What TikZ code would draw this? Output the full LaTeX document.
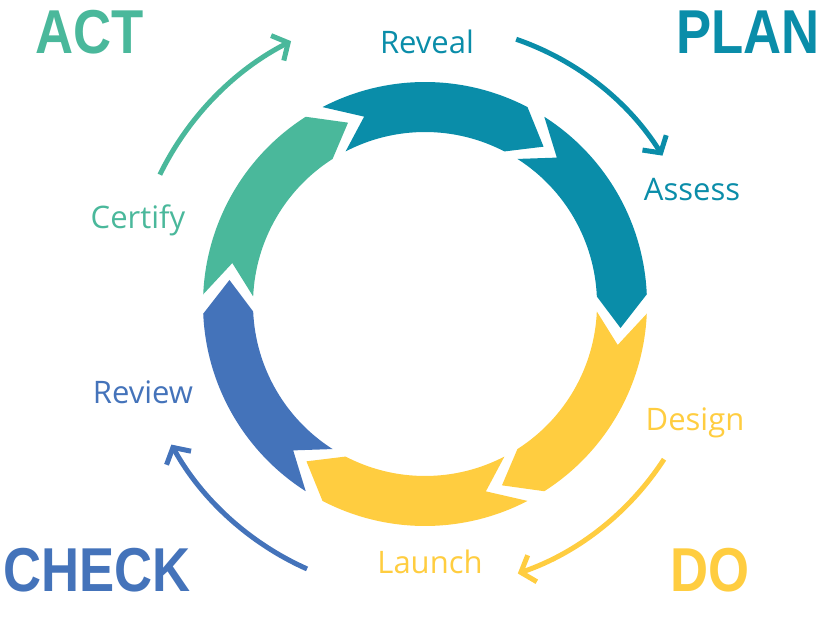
\documentclass[tikz,border=0pt]{standalone}
\usepackage{fontspec}
\setmainfont{Open Sans}
\newfontfamily\heavyfont{Liberation Sans}
\usetikzlibrary{arrows.meta}
\definecolor{tealc}{HTML}{0A8DA9}
\definecolor{greenc}{HTML}{4AB89B}
\definecolor{bluec}{HTML}{4473BA}
\definecolor{yellowc}{HTML}{FFCD40}
\tikzset{
  stage label/.style={font=\fontsize{31}{34}\selectfont},
  phase/.style={font=\heavyfont\bfseries\fontsize{62}{62}\selectfont, xscale=0.85},
  cycle arrow/.style={line width=5pt, -{Straight Barb[length=12pt,width=28pt,line width=5pt]}}
}
\begin{document}
\begin{tikzpicture}[x=1pt,y=1pt]
    \useasboundingbox (0,0) rectangle (824,616);
    \begin{scope}[shift={(425,312)}]
        % ring segments
        \foreach \a/\c in {120/tealc,60/tealc,0/yellowc,-60/yellowc,-120/bluec,180/greenc} {
            \fill[\c] (\a-2.5:222) arc[start angle=\a-2.5, end angle=\a-57.5, radius=222]
                -- (\a-67:197) -- (\a-57.5:172)
                arc[start angle=\a-57.5, end angle=\a-2.5, radius=172]
                -- (\a-12:197) -- cycle;
        }
        % outer arrows
        \draw[cycle arrow, tealc] (71:280) arc[start angle=71, end angle=32, radius=280];
        \draw[cycle arrow, yellowc] (-33:285) arc[start angle=-33, end angle=-71, radius=285];
        \draw[cycle arrow, bluec] (-114:290) arc[start angle=-114, end angle=-151, radius=290];
        \draw[cycle arrow, greenc] (154:295) arc[start angle=154, end angle=117, radius=295];
    \end{scope}
    % step labels
    \node[stage label, tealc] (reveal) at (427,574) {Reveal};
    \node[stage label, tealc] (assess) at (692,426) {Assess};
    \node[stage label, yellowc] (design) at (695,193) {Design};
    \node[stage label, yellowc] (launch) at (430,54) {Launch};
    \node[stage label, bluec] (review) at (143,224) {Review};
    \node[stage label, greenc] (certify) at (138,396) {Certify};
    % phase labels
    \node[phase, greenc] (act) at (90,584) {ACT};
    \node[phase, tealc] (plan) at (748,584) {PLAN};
    \node[phase, bluec] (check) at (97,46) {CHECK};
    \node[phase, yellowc] (do) at (710,46) {DO};
\end{tikzpicture}
\end{document}
